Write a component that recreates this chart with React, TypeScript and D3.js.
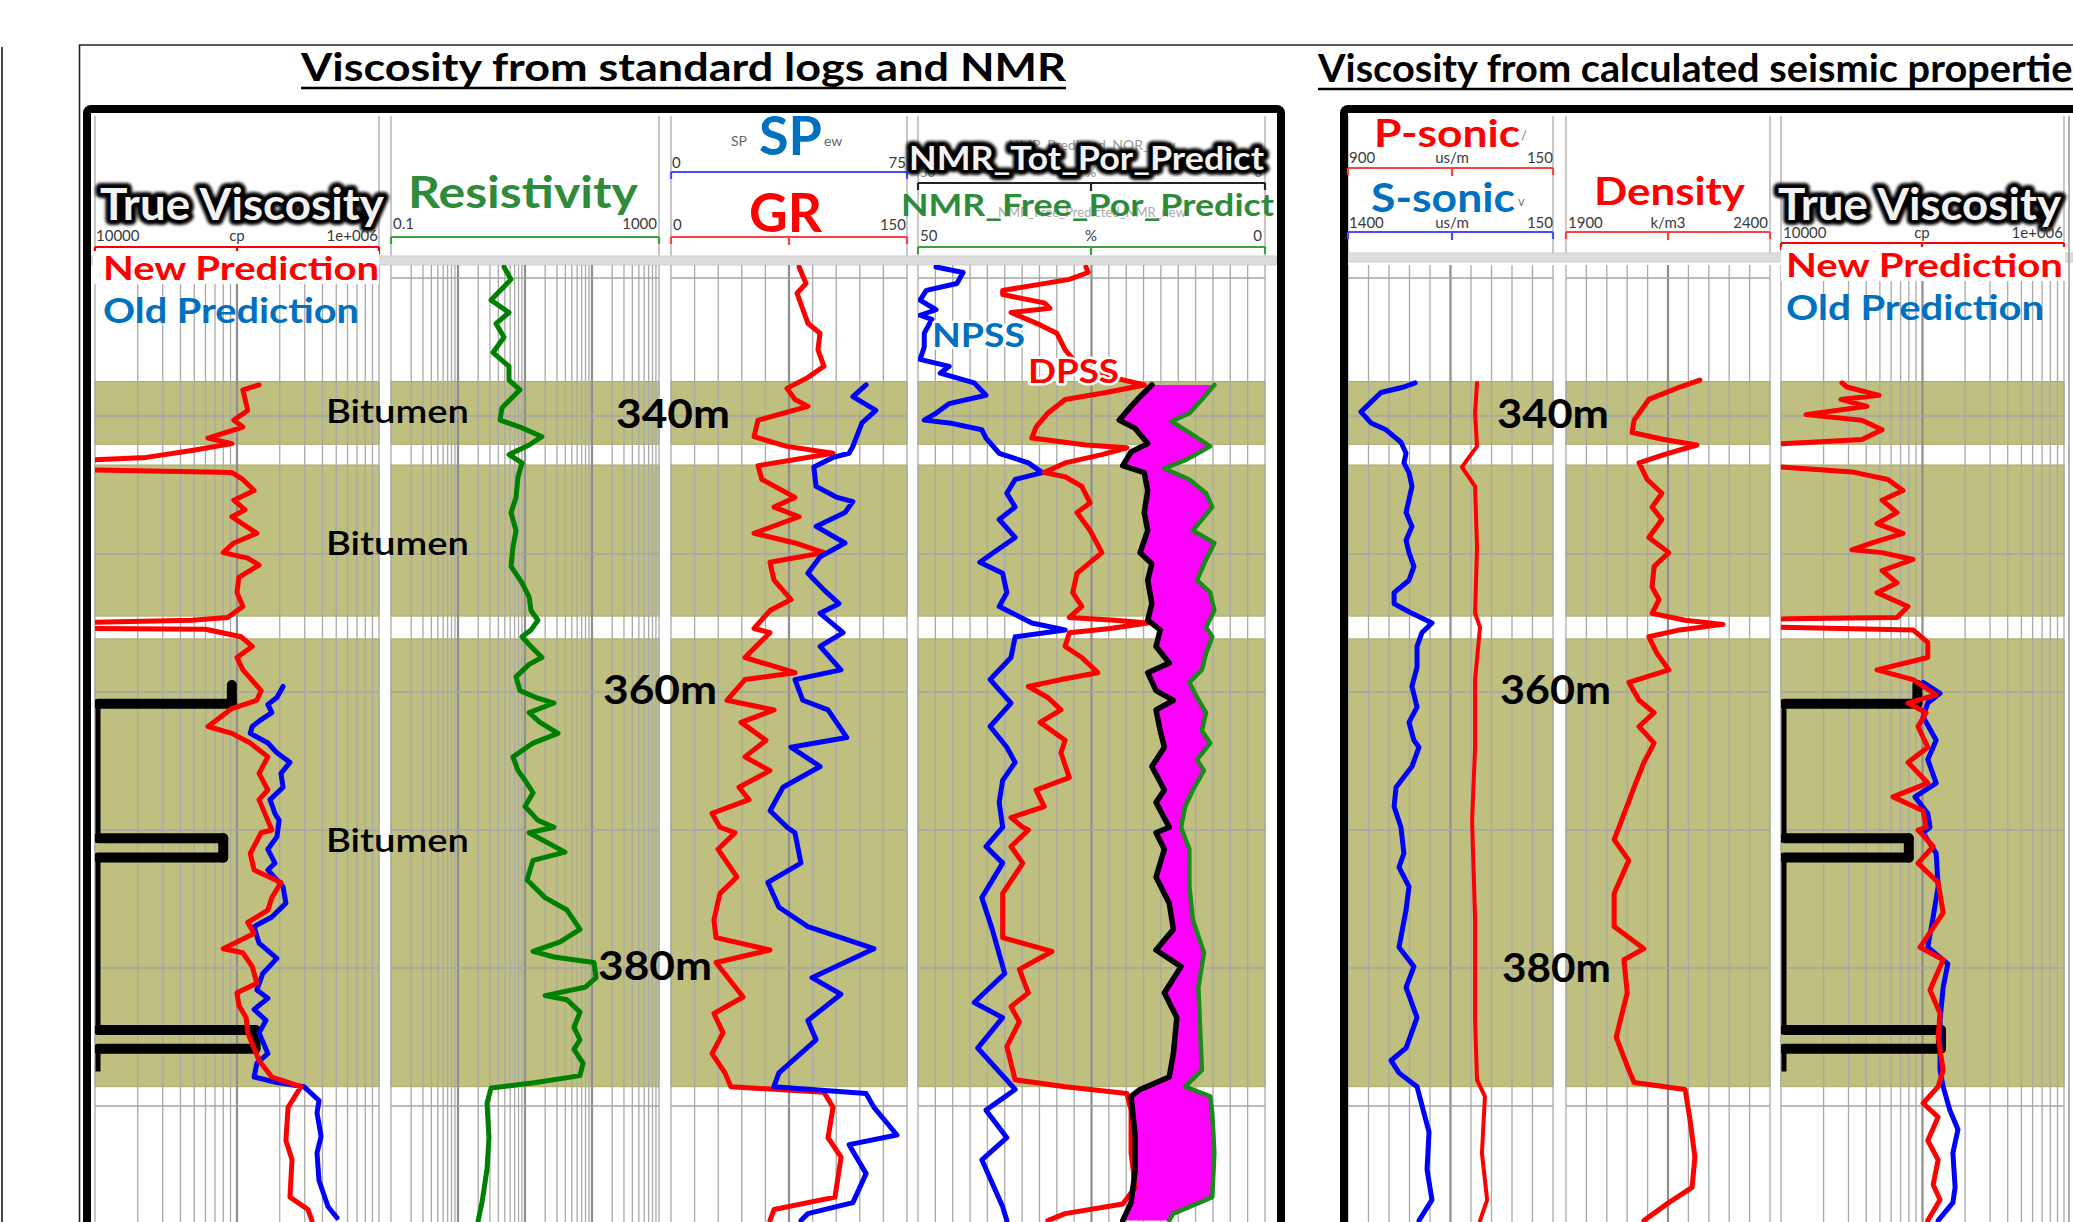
import React from 'react';
import * as d3 from 'd3';

type P = [number, number];

// ---------------- DATA (depth m, value) ----------------
const depthTicks = [330, 340, 350, 360, 370, 380, 390];
const depthLabels = [340, 360, 380];
const bitumenBands: P[] = [[337.5, 342.05], [343.55, 354.5], [356.15, 388.6]];

// Left panel, track 1 (viscosity, cp)
const viscNewL: P[] = [
[337.75,143000],[338.1,110000],[339.6,119000],[340.3,95000],[340.8,110000],[341.6,62500],[342.0,92000],[342.5,48000],[343.0,23000],[343.2,9000],[343.4,2000],[343.75,2000],[343.9,9000],[344.05,60000],[344.1,92000],[344.6,110000],[345.4,132000],[346.1,95000],[346.8,114000],[347.3,92000],[348.5,138000],[349.2,95000],[349.9,80000],[350.3,119000],[350.8,143000],[351.7,103000],[352.8,100000],[353.8,110000],[354.6,86000],[354.8,48000],[354.95,9000],[355.1,2000],[355.3,2000],[355.4,9000],[355.45,60000],[356.0,107000],[356.7,128000],[357.5,100000],[358.4,110000],[359.9,148000],[360.6,138000],[361.2,92000],[362.5,62500],[363.0,92000],[363.7,124000],[364.7,165000],[365.9,143000],[367.1,165000],[367.8,143000],[370.0,176000],[370.2,148000],[371.7,124000],[372.9,132000],[373.8,204000],[374.9,176000],[375.8,165000],[376.7,119000],[377.5,132000],[378.6,80000],[378.9,110000],[379.9,128000],[381.1,138000],[381.8,100000],[382.7,103000],[383.6,116000],[384.7,119000],[386.7,143000],[387.9,176000],[388.5,265000],[388.6,282000],[390.1,229000],[392.5,221000],[393.9,244000],[396.6,236000],[397.5,316000],[398.3,337000]
];
const viscOldL: P[] = [
[359.6,211000],[360.4,191000],[360.9,165000],[361.5,176000],[362.0,148000],[362.5,128000],[363.0,124000],[363.7,165000],[364.4,191000],[365.1,236000],[365.9,204000],[366.9,211000],[367.8,171000],[368.8,185000],[369.3,198000],[370.5,191000],[371.4,165000],[372.4,185000],[372.9,165000],[374.1,211000],[375.3,221000],[376.3,176000],[377.0,132000],[378.2,143000],[379.3,191000],[380.4,152000],[381.6,138000],[382.2,165000],[383.0,132000],[383.8,160000],[384.7,143000],[386.2,165000],[386.9,138000],[387.9,132000],[388.3,191000],[388.6,296000],[389.6,378000],[390.5,366000],[392.2,391000],[393.4,366000],[395.4,378000],[397.3,438000],[398.1,506000]
];
const trueVisc: P[] = [
[359.5,92000],[360.85,92000],[360.85,10500],[370.6,10500],[370.6,80000],[372.0,80000],[372.0,10500],[384.5,10500],[384.5,135000],[385.85,135000],[385.85,10500],[387.5,10500]
];
// Track 2 resistivity (ohm.m)
const resist: P[] = [
[329.2,4.86],[330.1,6.18],[331.6,3.11],[332.5,5.77],[333.3,3.69],[334.3,4.86],[335.4,3.33],[336.4,5.77],[337.4,5.77],[338.1,8.42],[339.4,4.54],[340.3,4.24],[340.8,8.42],[341.5,17.9],[342.1,11.5],[342.8,5.77],[343.4,9.02],[344.4,7.87],[345.9,7.34],[347.0,6.18],[348.3,7.34],[349.5,6.62],[350.9,6.18],[352.1,9.02],[353.1,11.5],[354.1,12.3],[354.8,15.6],[355.5,12.3],[356.0,9.02],[356.7,12.3],[357.5,17.9],[358.0,11.5],[358.9,7.34],[359.9,8.42],[360.4,14.6],[360.8,27.1],[361.5,11.5],[362.2,16.7],[363.0,31.1],[363.7,13.2],[364.7,6.62],[365.7,7.87],[366.4,10.0],[367.3,13.2],[368.3,10.0],[369.3,15.6],[369.8,27.1],[370.2,11.5],[371.6,39.5],[372.2,13.2],[373.6,10.7],[374.9,19.9],[375.8,42.4],[377.2,66.2],[378.1,33.3],[378.8,13.2],[379.2,27.1],[379.6,107],[380.7,115],[381.4,78.7],[382.0,19.9],[382.3,42.4],[383.2,66.2],[384.3,53.8],[385.2,66.2],[385.9,53.8],[386.9,73.4],[387.8,66.2],[388.3,14.6],[388.7,3.11],[389.8,2.71],[392.3,2.9],[394.6,2.71],[397.0,2.28],[398.3,2.0]
];
// Track 3 GR (API) and SP
const gr: P[] = [
[329.2,81.4],[330.4,85.8],[331.1,80.1],[332.3,83.9],[333.3,87.1],[334.0,94.7],[335.2,93.4],[336.4,97.2],[337.2,87.1],[338.0,73.7],[338.8,78.8],[339.3,87.1],[340.3,55.3],[341.5,52.8],[342.2,73.7],[342.7,103.0],[343.6,55.3],[344.6,57.8],[345.9,78.8],[346.6,65.5],[347.3,81.4],[348.5,52.8],[349.2,78.8],[349.9,97.2],[350.6,62.9],[351.9,65.5],[353.3,76.3],[354.1,62.9],[355.4,52.8],[355.7,62.9],[357.5,47.0],[358.6,78.8],[359.1,47.0],[360.6,35.6],[361.3,65.5],[362.2,44.5],[363.5,60.4],[364.7,47.0],[365.7,62.9],[366.9,43.2],[367.8,49.6],[368.8,26.1],[369.8,31.1],[370.2,40.7],[371.4,29.9],[373.4,41.9],[374.6,31.1],[376.5,27.3],[377.8,28.6],[378.7,62.9],[379.6,28.6],[382.1,45.8],[383.3,27.3],[384.7,33.1],[386.2,26.1],[387.6,34.3],[388.6,38.1],[389.0,97.2],[390.1,103.0],[392.3,99.8],[393.7,108.1],[396.6,104.2],[397.5,65.5],[398.3,62.9]
];
const sp: P[] = [
[337.75,62.0],[338.6,57.8],[339.6,65.1],[340.5,60.7],[342.2,57.8],[342.7,56.6],[343.0,51.5],[343.7,45.4],[345.1,46.1],[345.9,52.8],[346.2,57.8],[347.0,55.3],[348.0,46.1],[349.2,55.3],[350.2,47.4],[351.4,43.5],[352.6,48.6],[353.6,53.4],[354.3,47.4],[355.7,54.7],[356.7,47.4],[358.4,54.0],[359.1,39.4],[360.6,41.9],[361.3,49.9],[363.3,55.9],[364.0,38.1],[365.4,47.4],[366.9,35.6],[368.6,31.5],[369.8,36.9],[370.2,39.4],[372.4,41.3],[373.8,30.8],[375.6,34.3],[377.0,43.5],[378.6,64.5],[380.7,44.8],[381.9,54.0],[383.8,43.5],[385.2,46.1],[387.6,34.3],[388.6,32.7],[389.1,62.0],[390.1,64.5],[392.1,71.8],[392.8,56.6],[394.9,62.0],[397.0,57.8],[397.8,43.5],[398.3,41.3]
];
// Track 4 porosity (%)
const npss: P[] = [
[329.2,47.4],[329.6,43.5],[330.4,44.4],[330.9,48.8],[331.6,49.7],[332.3,47.4],[332.7,49.7],[333.0,48.0],[334.0,49.1],[335.0,49.1],[335.9,49.7],[336.4,45.5],[336.9,46.8],[337.6,41.9],[338.5,40.2],[339.1,45.5],[339.8,47.4],[340.3,49.1],[340.5,45.5],[341.0,40.8],[341.6,40.2],[342.7,38.3],[343.4,34.1],[344.1,32.1],[344.6,36.0],[345.6,37.2],[346.6,36.0],[347.5,38.3],[348.8,36.0],[350.6,41.1],[351.4,37.8],[352.8,37.2],[353.8,38.3],[355.0,33.6],[355.5,28.8],[356.0,36.0],[357.5,36.6],[359.1,39.6],[360.8,36.6],[362.5,39.6],[364.0,37.2],[365.1,36.0],[366.4,37.8],[368.0,38.3],[369.8,37.8],[371.2,40.2],[372.4,37.8],[374.9,40.8],[377.2,39.3],[380.4,37.5],[382.5,41.9],[383.6,37.8],[385.8,41.4],[388.8,36.0],[390.3,40.2],[392.3,37.2],[393.9,40.8],[397.3,37.8],[398.3,37.2]
];
const dpss: P[] = [
[329.2,25.8],[329.6,25.5],[330.1,28.2],[330.9,37.8],[331.2,37.8],[331.8,31.8],[332.2,31.0],[332.5,36.6],[333.4,32.4],[334.0,30.0],[335.2,28.8],[336.3,27.0],[337.2,22.0],[337.75,17.4],[338.3,22.9],[338.8,28.8],[339.8,31.3],[340.8,33.0],[341.6,33.6],[342.1,25.8],[342.3,19.9],[342.8,23.5],[343.4,28.8],[344.1,31.8],[344.4,28.8],[345.1,26.4],[346.3,25.2],[347.0,27.1],[348.3,25.2],[349.9,23.5],[351.4,27.1],[352.8,27.7],[353.8,26.4],[354.6,28.2],[354.8,21.6],[355.0,16.9],[355.4,22.3],[355.7,28.2],[356.7,28.8],[357.5,26.4],[358.6,24.1],[359.1,29.4],[359.6,34.1],[360.4,31.3],[361.3,29.4],[362.2,32.4],[363.5,28.8],[364.4,29.4],[366.2,28.2],[367.1,33.0],[368.3,31.8],[369.1,36.6],[369.8,34.9],[370.0,34.1],[371.2,36.6],[372.4,34.9],[374.6,37.8],[377.8,37.8],[378.8,30.7],[380.1,35.4],[381.8,34.1],[382.8,36.6],[383.9,35.4],[385.7,37.2],[388.1,36.0],[388.6,28.8],[389.1,19.9],[390.3,19.3],[393.4,19.3],[395.9,18.7],[397.1,20.5],[397.8,28.8],[398.3,31.3]
];
const nmrTot: P[] = [
[337.75,16.3],[338.6,18.0],[339.3,19.3],[340.3,21.0],[340.9,18.7],[342.0,16.9],[342.6,19.3],[343.6,20.5],[344.1,17.4],[345.4,16.9],[347.0,17.4],[348.3,16.9],[349.9,18.0],[350.7,16.3],[351.9,16.9],[353.6,16.3],[354.8,16.9],[355.5,15.1],[356.7,15.7],[357.9,13.8],[358.6,16.9],[359.9,15.7],[360.6,13.2],[361.3,15.7],[362.8,15.1],[364.0,14.5],[365.4,16.3],[367.1,14.5],[368.0,15.7],[369.8,13.8],[370.2,15.7],[371.4,14.5],[373.4,15.7],[375.3,13.8],[377.2,13.2],[378.7,15.7],[379.9,12.1],[381.8,14.5],[383.6,12.7],[386.2,13.2],[387.9,13.8],[388.8,18.0],[389.3,19.3],[392.2,18.7],[394.6,18.7],[397.0,19.3],[398.3,20.5]
];
const nmrFree: P[] = [
[337.75,7.3],[338.8,9.1],[339.8,10.9],[340.4,13.5],[341.2,10.9],[342.2,7.9],[343.2,11.5],[343.8,14.5],[344.6,10.9],[345.6,8.5],[346.6,7.6],[347.5,9.1],[348.3,10.4],[349.2,7.3],[350.4,8.5],[351.9,9.8],[352.8,7.9],[354.1,7.3],[355.3,8.5],[356.0,7.6],[357.2,8.5],[358.4,9.1],[359.3,10.9],[360.4,9.8],[361.5,8.5],[362.8,9.1],[363.7,7.9],[364.9,9.8],[365.7,8.8],[367.1,10.4],[368.3,11.5],[369.8,12.1],[371.4,10.9],[374.1,10.9],[376.5,10.4],[378.9,8.8],[381.4,9.6],[383.8,9.4],[387.4,9.1],[388.6,11.5],[389.3,7.9],[390.5,7.6],[393.4,7.3],[396.6,7.6],[397.8,13.2],[398.3,13.8]
];
// Right panel
const sSonic: P[] = [
[337.6,991],[337.9,1059],[338.3,1199],[339.7,1321],[340.5,1260],[341.0,1168],[341.9,1077],[342.7,1046],[343.4,1059],[344.1,1028],[345.1,1010],[347.0,1046],[348.0,1010],[349.0,1046],[349.9,1028],[350.9,998],[351.9,1028],[352.8,1119],[353.6,1119],[354.3,1010],[355.0,888],[355.7,949],[356.7,979],[358.2,979],[359.6,1010],[361.1,979],[362.2,1028],[363.5,998],[364.0,967],[365.4,1010],[366.9,1107],[368.3,1119],[369.8,1077],[371.7,1059],[372.7,1089],[374.1,1028],[375.8,1046],[378.5,1089],[379.9,998],[381.4,1046],[383.6,979],[385.8,1046],[386.7,1138],[387.6,1089],[388.6,979],[390.5,937],[391.9,906],[394.6,918],[396.8,888],[398.3,967]
];
const pSonic: P[] = [
[337.6,428],[339.8,435],[342.2,428],[343.2,465],[343.7,483],[345.1,435],[349.5,428],[354.3,435],[355.3,417],[359.1,435],[364.0,435],[369.3,446],[376.5,435],[383.8,435],[388.1,428],[389.3,399],[393.4,410],[396.8,391],[398.3,417]
];
const density: P[] = [
[337.4,2228],[337.9,2179],[338.8,2103],[340.3,2067],[341.2,2062],[341.7,2140],[342.1,2221],[342.8,2140],[343.4,2079],[344.6,2099],[345.6,2135],[346.6,2111],[347.5,2135],[348.8,2103],[349.9,2152],[350.9,2116],[352.4,2111],[353.3,2128],[354.3,2111],[354.8,2192],[355.1,2285],[355.5,2179],[356.0,2103],[357.2,2123],[358.4,2152],[359.3,2054],[360.6,2079],[361.5,2116],[362.5,2079],[363.7,2116],[365.1,2091],[366.9,2067],[369.8,2030],[370.7,2018],[372.2,2054],[374.6,2018],[377.0,2018],[378.6,2091],[379.4,2042],[381.8,2050],[385.0,2023],[387.4,2054],[388.3,2067],[388.8,2192],[391.0,2204],[393.7,2216],[395.9,2209],[397.0,2152],[398.3,2091]
];
const viscNewR: P[] = [
[337.6,27000],[337.9,29200],[338.5,49300],[338.8,26500],[339.3,40500],[339.9,15000],[340.3,37300],[341.0,51800],[341.7,37300],[342.0,11000],[342.25,3000],[343.55,3000],[343.7,10000],[344.05,31700],[344.6,57000],[345.4,72800],[346.1,51800],[347.0,66100],[347.8,47700],[348.5,72800],[349.2,44000],[349.7,31700],[349.9,51800],[350.4,85700],[351.2,51800],[352.1,66100],[352.8,47700],[353.8,79000],[354.6,66100],[354.7,11000],[354.9,3000],[355.2,3000],[355.3,10000],[355.5,85700],[356.4,109000],[357.5,109000],[358.4,47700],[359.1,85700],[359.6,101000],[360.2,125000],[360.8,79000],[361.5,106000],[362.5,93000],[364.0,109000],[365.1,79000],[366.6,109000],[367.6,61900],[368.6,101000],[369.8,106000],[370.0,93000],[371.2,119000],[372.4,93000],[373.8,129000],[376.0,140000],[378.5,96000],[379.4,140000],[381.6,113000],[383.3,133000],[385.0,129000],[387.4,140000],[388.6,129000],[389.8,101000],[390.8,129000],[392.5,109000],[393.9,129000],[395.7,119000],[396.8,133000],[398.3,109000]
];
const viscOldR: P[] = [
[359.3,101000],[360.1,133000],[360.8,109000],[361.8,101000],[363.5,125000],[364.9,109000],[366.6,125000],[367.6,88500],[368.8,109000],[369.8,113000],[370.2,101000],[371.7,125000],[374.1,129000],[376.3,119000],[378.5,109000],[379.7,151000],[381.4,140000],[383.8,133000],[387.4,133000],[388.6,140000],[390.3,156000],[391.7,178000],[393.4,164000],[395.9,170000],[397.0,164000],[398.3,129000]
];

// ---------------- LAYOUT ----------------
const FONT = "Lato, 'Open Sans', 'DejaVu Sans', sans-serif";
const RED = '#FF0000', BLUE = '#0000FF', TBLUE = '#0070C0', TGREEN = '#2E8B3A', OLIVE = '#BFBF80';
const BODY_TOP = 265, BODY_BOT = 1222;
const LW = 5;

const y = d3.scaleLinear().domain([340, 380]).range([416, 968]);
const sc = {
  viscL: d3.scaleLog().domain([1e4, 1e6]).range([95, 379]),
  res: d3.scaleLog().domain([0.1, 1000]).range([391, 659]),
  gr: d3.scaleLinear().domain([0, 150]).range([671, 907]),
  sp: d3.scaleLinear().domain([0, 75]).range([671, 907]),
  nmr: d3.scaleLinear().domain([50, 0]).range([918, 1265]),
  ps: d3.scaleLinear().domain([900, 150]).range([1348, 1553]),
  ss: d3.scaleLinear().domain([1400, 150]).range([1348, 1553]),
  dens: d3.scaleLinear().domain([1900, 2400]).range([1566, 1770]),
  viscR: d3.scaleLog().domain([1e4, 1e6]).range([1781, 2064]),
};

function logTicks(lo: number, hi: number) {
  const out: { v: number; major: boolean }[] = [];
  const e0 = Math.round(Math.log10(lo)), e1 = Math.round(Math.log10(hi));
  for (let e = e0; e < e1; e++) for (let m = 1; m < 10; m++) out.push({ v: m * Math.pow(10, e), major: m === 1 && e !== e0 });
  out.push({ v: hi, major: false });
  return out;
}

type Track = { id: string; x0: number; x1: number; lines: { x: number; major: boolean }[] };
const linLines = (s: any, vals: number[], mid: number) => vals.map(v => ({ x: s(v), major: Math.abs(v - mid) < 1e-6 }));
const tracks: Track[] = [
  { id: 't1', x0: 95, x1: 379, lines: logTicks(1e4, 1e6).map(t => ({ x: sc.viscL(t.v), major: t.major })) },
  { id: 't2', x0: 391, x1: 659, lines: logTicks(0.1, 1000).map(t => ({ x: sc.res(t.v), major: t.major })) },
  { id: 't3', x0: 671, x1: 907, lines: linLines(sc.gr, d3.range(0, 151, 15), 75) },
  { id: 't4', x0: 918, x1: 1265, lines: linLines(sc.nmr, d3.range(0, 50.01, 2.5), 25) },
  { id: 'tA', x0: 1348, x1: 1553, lines: linLines(sc.ps, d3.range(150, 901, 75), 525) },
  { id: 'tB', x0: 1566, x1: 1770, lines: linLines(sc.dens, d3.range(1900, 2401, 50), 2150) },
  { id: 'tC', x0: 1781, x1: 2064, lines: logTicks(1e4, 1e6).map(t => ({ x: sc.viscR(t.v), major: t.major })) },
];

const lineGen = (sx: any) => d3.line<P>().x(p => sx(p[1])).y(p => y(p[0]));

function Curve({ data, sx, color, w = LW, clip }: { data: P[]; sx: any; color: string; w?: number; clip: string }) {
  return <path d={lineGen(sx)(data) || ''} fill="none" stroke={color} strokeWidth={w} strokeLinejoin="round" strokeLinecap="round" clipPath={`url(#clip-${clip})`} />;
}

function TrueVisc({ sx, clip }: { sx: any; clip: string }) {
  const base = trueVisc[trueVisc.length - 1][1];
  const segs: P[][] = [];
  for (let i = 0; i < trueVisc.length - 1; i++) {
    const a = trueVisc[i], b = trueVisc[i + 1];
    if (a[1] > base || b[1] > base) segs.push([a, b]);
  }
  const lg = lineGen(sx);
  return (
    <g clipPath={`url(#clip-${clip})`}>
      <path d={lg(trueVisc) || ''} fill="none" stroke="#000" strokeWidth={5} strokeLinejoin="round" />
      {segs.map((s, i) => <path key={i} d={lg(s) || ''} fill="none" stroke="#000" strokeWidth={10} strokeLinecap="round" />)}
    </g>
  );
}

function ScaleBar({ x0, x1, yy, color, mid }: { x0: number; x1: number; yy: number; color: string; mid?: number }) {
  return (
    <g stroke={color} strokeWidth={2.2}>
      <line x1={x0} x2={x1} y1={yy} y2={yy} />
      <line x1={x0} x2={x0} y1={yy} y2={yy + 7} />
      <line x1={x1} x2={x1} y1={yy} y2={yy + 7} />
      {mid !== undefined && <line x1={mid} x2={mid} y1={yy} y2={yy + 8} />}
    </g>
  );
}

function Small({ x, yy, anchor = 'start', children, fill = '#3A3A3A', size = 15 }: any) {
  return <text x={x} y={yy} textAnchor={anchor} fontFamily={FONT} fontSize={size} fill={fill}>{children}</text>;
}

function Big({ x, yy, size, len, color, children, weight = 700 }: any) {
  return <text x={x} y={yy} fontFamily={FONT} fontWeight={weight} fontSize={size} textLength={len} lengthAdjust="spacingAndGlyphs" fill={color}>{children}</text>;
}

function Outlined({ x, yy, size, len, children }: any) {
  return (
    <g fontFamily={FONT} fontWeight={700} fontSize={size}>
      <text x={x} y={yy} textLength={len} lengthAdjust="spacingAndGlyphs" fill="#000" stroke="#000" strokeWidth={10} strokeLinejoin="round" filter="url(#soft)">{children}</text>
      <text x={x} y={yy} textLength={len} lengthAdjust="spacingAndGlyphs" fill="#000" stroke="#000" strokeWidth={5} strokeLinejoin="round">{children}</text>
      <text x={x} y={yy} textLength={len} lengthAdjust="spacingAndGlyphs" fill="#F2F2F2">{children}</text>
    </g>
  );
}

function Halo({ x, yy, size, len, color, children }: any) {
  return <text x={x} y={yy} fontFamily={FONT} fontWeight={700} fontSize={size} textLength={len} lengthAdjust="spacingAndGlyphs" fill={color} stroke="#fff" strokeWidth={5} strokeLinejoin="round" style={{ paintOrder: 'stroke' }}>{children}</text>;
}

export default function App() {
  const magentaPath = (() => {
    const lg = lineGen(sc.nmr);
    const pts = [...nmrTot, ...nmrFree.slice().reverse()];
    return (lg(pts) || '') + 'Z';
  })();

  return (
    <svg width={2073} height={1222} style={{ position: 'absolute', left: 0, top: 0, background: '#fff' }}>
      <defs>
        <filter id="soft" x="-10%" y="-30%" width="120%" height="160%">
          <feGaussianBlur stdDeviation="1.6" />
        </filter>
        {tracks.map(t => (
          <clipPath id={`clip-${t.id}`} key={t.id}>
            <rect x={t.x0} y={BODY_TOP} width={t.x1 - t.x0} height={BODY_BOT - BODY_TOP} />
          </clipPath>
        ))}
      </defs>
      <rect x={0} y={0} width={2073} height={1222} fill="#fff" />

      {/* outer thin frame lines */}
      <line x1={2} x2={2} y1={47} y2={1222} stroke="#444" strokeWidth={2} />
      <line x1={79} x2={2073} y1={45} y2={45} stroke="#222" strokeWidth={1.6} />
      <line x1={79.5} x2={79.5} y1={45} y2={1222} stroke="#222" strokeWidth={1.6} />

      {/* titles */}
      <Big x={301} yy={81} size={39} len={765} color="#000">Viscosity from standard logs and NMR</Big>
      <line x1={301} x2={1066} y1={88} y2={88} stroke="#000" strokeWidth={2.5} />
      <Big x={1318} yy={82} size={39} len={772} color="#000">Viscosity from calculated seismic properties</Big>
      <line x1={1318} x2={2073} y1={89} y2={89} stroke="#000" strokeWidth={2.5} />

      {/* header track edges */}
      {tracks.map(t => (
        <g key={'he' + t.id} stroke="#C8C8C8" strokeWidth={2}>
          <line x1={t.x0} x2={t.x0} y1={116} y2={256} />
          <line x1={t.x1} x2={t.x1} y1={116} y2={256} />
        </g>
      ))}

      {/* header/body separators */}
      <rect x={91} y={256} width={1186} height={9} fill="#DDDDDD" stroke="#CFCFCF" strokeWidth={1} />
      <rect x={1348} y={253} width={725} height={9} fill="#DDDDDD" stroke="#CFCFCF" strokeWidth={1} />

      {/* bodies: bands + grid */}
      {tracks.map(t => (
        <g key={'b' + t.id}>
          {bitumenBands.map((b, i) => (
            <rect key={i} x={t.x0} y={y(b[0])} width={t.x1 - t.x0} height={y(b[1]) - y(b[0])} fill={OLIVE} stroke="#ABAB66" strokeWidth={1} />
          ))}
          {t.lines.map((l, i) => (
            <line key={i} x1={l.x} x2={l.x} y1={BODY_TOP} y2={BODY_BOT} stroke={l.major ? '#8E8E8E' : '#A9A9A9'} strokeWidth={l.major ? 2.2 : 1.3} />
          ))}
          {depthTicks.map(d => (
            <line key={d} x1={t.x0} x2={t.x1} y1={y(d)} y2={y(d)} stroke="#A4A4A4" strokeWidth={1.6} />
          ))}
        </g>
      ))}

      {/* ---- Left panel curves ---- */}
      <TrueVisc sx={sc.viscL} clip="t1" />
      <Curve data={viscOldL} sx={sc.viscL} color={BLUE} clip="t1" />
      <Curve data={viscNewL} sx={sc.viscL} color={RED} clip="t1" />
      <Curve data={resist} sx={sc.res} color="#008000" clip="t2" />
      <Curve data={gr} sx={sc.gr} color={RED} clip="t3" />
      <Curve data={sp} sx={sc.sp} color={BLUE} clip="t3" />
      <path d={magentaPath} fill="#FF00FF" clipPath="url(#clip-t4)" />
      <Curve data={npss} sx={sc.nmr} color={BLUE} clip="t4" />
      <Curve data={dpss} sx={sc.nmr} color={RED} clip="t4" />
      <Curve data={nmrTot} sx={sc.nmr} color="#000" w={5.5} clip="t4" />
      <Curve data={nmrFree} sx={sc.nmr} color="#1A8A1A" w={4.5} clip="t4" />

      {/* ---- Right panel curves ---- */}
      <Curve data={sSonic} sx={sc.ss} color={BLUE} clip="tA" />
      <Curve data={pSonic} sx={sc.ps} color={RED} w={4} clip="tA" />
      <Curve data={density} sx={sc.dens} color={RED} clip="tB" />
      <TrueVisc sx={sc.viscR} clip="tC" />
      <Curve data={viscOldR} sx={sc.viscR} color={BLUE} clip="tC" />
      <Curve data={viscNewR} sx={sc.viscR} color={RED} clip="tC" />

      {/* thick boxes */}
      <rect x={87} y={109} width={1194} height={1200} rx={4} fill="none" stroke="#000" strokeWidth={8} />
      <rect x={1344} y={109} width={800} height={1200} rx={4} fill="none" stroke="#000" strokeWidth={8} />
      <line x1={2069} x2={2069} y1={116} y2={1222} stroke="#999" strokeWidth={1.5} />

      {/* ---- Left headers ---- */}
      <Outlined x={100} yy={220} size={44} len={284}>True Viscosity</Outlined>
      <Small x={96} yy={241}>10000</Small>
      <Small x={237} yy={241} anchor="middle">cp</Small>
      <Small x={378} yy={241} anchor="end">1e+006</Small>
      <ScaleBar x0={95} x1={379} yy={247} color={RED} mid={237} />
      <rect x={93} y={251} width={286} height={33} fill="#fff" />
      <Big x={103} yy={280} size={33} len={276} color={RED}>New Prediction</Big>
      <Big x={103} yy={323} size={34} len={256} color={TBLUE}>Old Prediction</Big>

      <Big x={408} yy={208} size={43} len={230} color={TGREEN}>Resistivity</Big>
      <Small x={393} yy={229}>0.1</Small>
      <Small x={657} yy={229} anchor="end">1000</Small>
      <ScaleBar x0={391} x1={659} yy={237} color="#3DA03D" />

      <Small x={731} yy={146} size={14} fill="#666">SP</Small>
      <Big x={759} yy={155} size={53} len={63} color={TBLUE}>SP</Big>
      <Small x={824} yy={146} size={14} fill="#666">ew</Small>
      <Small x={672} yy={168}>0</Small>
      <Small x={906} yy={168} anchor="end">75</Small>
      <ScaleBar x0={671} x1={907} yy={172} color="#4A4AFF" />
      <Big x={749} yy={232} size={54} len={73} color={RED}>GR</Big>
      <Small x={673} yy={230}>0</Small>
      <Small x={906} yy={230} anchor="end">150</Small>
      <ScaleBar x0={671} x1={907} yy={237} color="#FF4040" mid={789} />

      <Small x={1092} yy={150} size={14} fill="#9A9A9A" anchor="middle">NMR_Predicted_NOR_new</Small>
      <Small x={920} yy={177} size={13} fill="#888">50</Small>
      <Small x={1091} yy={177} size={13} fill="#888" anchor="middle">%</Small>
      <Small x={1262} yy={177} size={13} fill="#888" anchor="end">0</Small>
      <Outlined x={909} yy={170} size={32} len={355}>NMR_Tot_Por_Predict</Outlined>
      <ScaleBar x0={918} x1={1265} yy={183} color="#222" mid={1091} />
      <Small x={1092} yy={217} size={13} fill="#AAAAAA" anchor="middle">NMR_Free_Predicted_NMR_new</Small>
      <Big x={901} yy={216} size={30} len={373} color={TGREEN}>NMR_Free_Por_Predict</Big>
      <Small x={920} yy={241}>50</Small>
      <Small x={1091} yy={241} anchor="middle">%</Small>
      <Small x={1262} yy={241} anchor="end">0</Small>
      <ScaleBar x0={918} x1={1265} yy={247} color="#3DA03D" mid={1091} />

      <Halo x={932} yy={347} size={33} len={93} color={TBLUE}>NPSS</Halo>
      <Halo x={1028} yy={383} size={32} len={91} color={RED}>DPSS</Halo>

      {/* body labels left */}
      {[423, 555, 852].map((b, i) => (
        <Big key={i} x={326} yy={b} size={32} len={143} color="#000" weight={600}>Bitumen</Big>
      ))}
      {depthLabels.map((d, i) => (
        <Big key={'l' + d} x={[616, 603, 598][i]} yy={y(d) + 12} size={41} len={114} color="#000">{`${d}m`}</Big>
      ))}

      {/* ---- Right headers ---- */}
      <Big x={1374} yy={147} size={38} len={146} color={RED}>P-sonic</Big>
      <Small x={1521} yy={140} size={13} fill="#777">/</Small>
      <Small x={1349} yy={163}>900</Small>
      <Small x={1452} yy={163} anchor="middle">us/m</Small>
      <Small x={1553} yy={163} anchor="end">150</Small>
      <ScaleBar x0={1348} x1={1553} yy={168} color="#FF4040" mid={1452} />
      <Big x={1371} yy={212} size={40} len={144} color={TBLUE}>S-sonic</Big>
      <Small x={1518} yy={206} size={13} fill="#777">v</Small>
      <Small x={1349} yy={228}>1400</Small>
      <Small x={1452} yy={228} anchor="middle">us/m</Small>
      <Small x={1553} yy={228} anchor="end">150</Small>
      <ScaleBar x0={1348} x1={1553} yy={232} color="#4A4AFF" mid={1452} />

      <Big x={1594} yy={205} size={39} len={151} color={RED}>Density</Big>
      <Small x={1568} yy={228}>1900</Small>
      <Small x={1668} yy={228} anchor="middle">k/m3</Small>
      <Small x={1768} yy={228} anchor="end">2400</Small>
      <ScaleBar x0={1566} x1={1770} yy={232} color="#FF4040" mid={1668} />

      <Outlined x={1778} yy={220} size={44} len={283}>True Viscosity</Outlined>
      <Small x={1783} yy={238}>10000</Small>
      <Small x={1922} yy={238} anchor="middle">cp</Small>
      <Small x={2063} yy={238} anchor="end">1e+006</Small>
      <ScaleBar x0={1781} x1={2064} yy={243} color={RED} mid={1922} />
      <rect x={1781} y={247} width={284} height={34} fill="#fff" />
      <Big x={1786} yy={277} size={33} len={277} color={RED}>New Prediction</Big>
      <Big x={1786} yy={320} size={34} len={258} color={TBLUE}>Old Prediction</Big>

      {depthLabels.map((d, i) => (
        <Big key={'r' + d} x={[1497, 1500, 1502][i]} yy={y(d) + 12 + (i === 2 ? 2 : 0)} size={41} len={[112, 111, 109][i]} color="#000">{`${d}m`}</Big>
      ))}
    </svg>
  );
}
